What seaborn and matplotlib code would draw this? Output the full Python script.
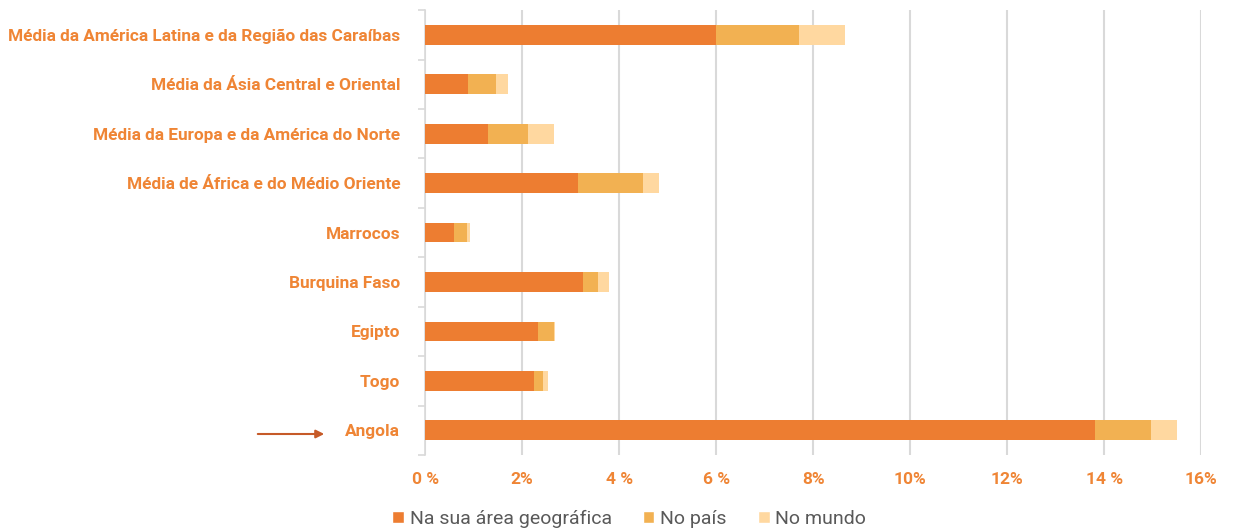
import numpy as np
import pandas as pd
import matplotlib
matplotlib.use('Agg')
import matplotlib.pyplot as plt
from matplotlib.patches import Patch
import seaborn as sns

# data (percent)
categories = ['Média da América Latina e da Região das Caraíbas',
              'Média da Ásia Central e Oriental',
              'Média da Europa e da América do Norte',
              'Média de África e do Médio Oriente',
              'Marrocos', 'Burquina Faso', 'Egipto', 'Togo', 'Angola']
area = [6.0, 0.88, 1.3, 3.14, 0.6, 3.26, 2.33, 2.25, 13.8]
pais = [1.7, 0.57, 0.82, 1.36, 0.27, 0.31, 0.32, 0.17, 1.17]
mundo = [0.95, 0.25, 0.53, 0.32, 0.05, 0.22, 0.02, 0.12, 0.52]
series = ['Na sua área geográfica', 'No país', 'No mundo']
xticklabels = ['0 %', '2%', '4 %', '6 %', '8%', '10%', '12%', '14 %', '16%']

colors = ['#ED7D31', '#F2B152', '#FFD8A0']
label_color = '#EF8535'

df = pd.DataFrame({'cat': categories, 'a': area, 'p': pais, 'm': mundo})
df['c1'] = df['a']
df['c2'] = df['a'] + df['p']
df['c3'] = df['c2'] + df['m']

sns.set_style('white')
plt.rcParams['font.family'] = ['Roboto', 'DejaVu Sans']

fig = plt.figure(figsize=(12.36, 5.31), dpi=100)
ax = fig.add_axes([0.344, 0.143, 0.628, 0.838])

# stacked bars: draw cumulative totals back to front
for col, c in zip(['c3', 'c2', 'c1'], colors[::-1]):
    sns.barplot(data=df, x=col, y='cat', orient='h', color=c, width=0.4,
                saturation=1, linewidth=0, ax=ax, order=categories, zorder=3)

ax.set_xlim(0, 16)
ax.set_ylim(8.5, -0.5)
ax.set_xticks(np.arange(0, 17, 2))
ax.set_xticklabels(xticklabels)
ax.set_xlabel('')
ax.set_ylabel('')
ax.grid(axis='x', color='#d9d9d9', lw=1.5, zorder=0)
ax.grid(axis='y', visible=False)
for s in ['top', 'right', 'bottom']:
    ax.spines[s].set_visible(False)
ax.spines['left'].set_color('#d9d9d9')
ax.spines['left'].set_linewidth(1.2)

ax.tick_params(axis='x', length=0, pad=12, labelsize=12.5, labelcolor=label_color)
for t in ax.get_xticklabels():
    t.set_fontweight('bold')
ax.tick_params(axis='y', which='major', length=0, pad=18, labelsize=12.4, labelcolor=label_color)
for t in ax.get_yticklabels():
    t.set_fontweight('bold')
ax.set_yticks(np.arange(-0.5, 9, 1), minor=True)
ax.tick_params(axis='y', which='minor', length=5, color='#d9d9d9', width=1.2, left=True)

handles = [Patch(facecolor=c, label=l) for c, l in zip(colors, series)]
fig.legend(handles=handles, loc='center', bbox_to_anchor=(0.509, 0.023), ncol=3,
           frameon=False, fontsize=14, handlelength=0.6, handleheight=0.6,
           handletextpad=0.3, columnspacing=1.6, labelcolor='#595959')

# arrow pointing at Angola
ax.annotate('', xy=(327, 97), xytext=(255, 97), xycoords='figure pixels',
            textcoords='figure pixels',
            arrowprops=dict(arrowstyle='-|>', color='#C65A28', lw=1.5, mutation_scale=12))

fig.savefig('out.png', dpi=100)
